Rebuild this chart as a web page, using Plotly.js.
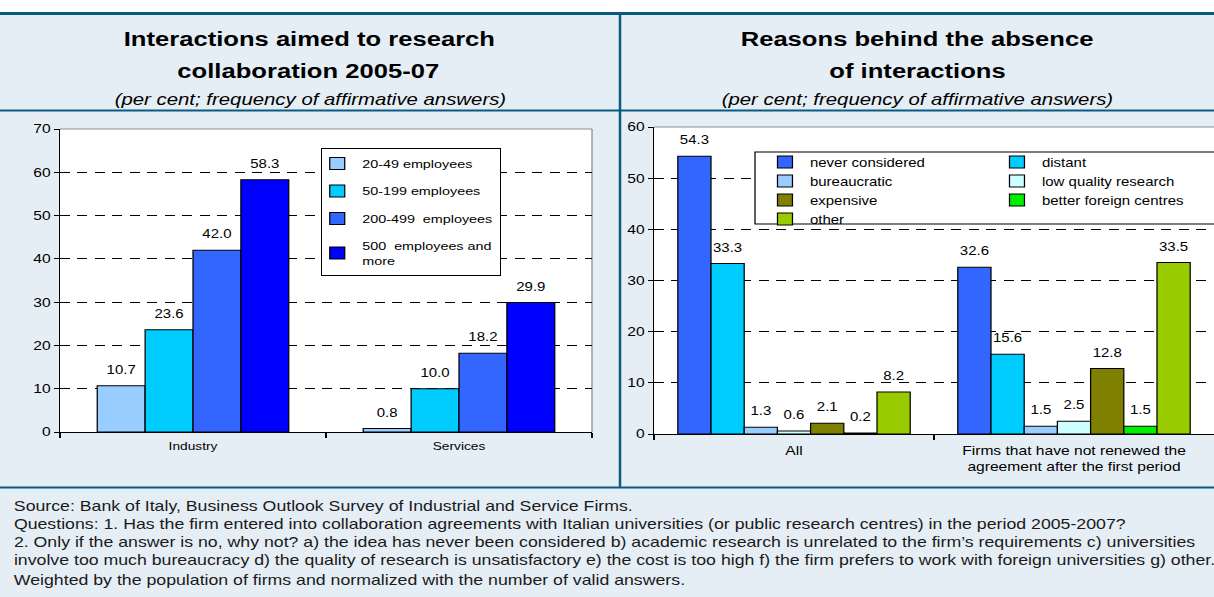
<!DOCTYPE html>
<html>
<head>
<meta charset="utf-8">
<script src="https://cdn.plot.ly/plotly-3.0.1.min.js"></script>
<style>
  html, body { margin:0; padding:0; background:#ffffff; overflow:hidden; }
  #wrap { position:relative; width:1214px; height:597px; overflow:hidden; }
  #stretch { position:absolute; left:0; top:0; width:972px; height:597px; transform-origin:0 0; }
  .layer { position:absolute; left:0; top:0; width:972px; height:597px; }
</style>
</head>
<body>
<div id="wrap">
  <div id="stretch">
    <div id="left" class="layer"></div>
    <div id="right" class="layer"></div>
  </div>
</div>
<script>
// ---------- data ----------
const categoriesL = ['Industry', 'Services'];
const seriesNamesL = ['20-49 employees', '50-199 employees', '200-499\u00a0 employees', '500\u00a0 employees and<br>more'];
const emp20_49   = [10.7, 0.8];
const emp50_199  = [23.6, 10.0];
const emp200_499 = [42.0, 18.2];
const emp500plus = [58.3, 29.9];

const categoriesR = ['All', 'Firms that have not renewed the<br>agreement after the first period'];
const seriesNamesR = ['never considered', 'distant', 'bureaucratic', 'low quality research', 'expensive', 'better foreign centres', 'other'];
const neverConsidered = [54.3, 32.6];
const distant         = [33.3, 15.6];
const bureaucratic    = [1.3, 1.5];
const lowQuality      = [0.6, 2.5];
const expensive       = [2.1, 12.8];
const betterForeign   = [0.2, 1.5];
const other           = [8.2, 33.5];

const yTicksL = [0, 10, 20, 30, 40, 50, 60, 70];
const yTicksR = [0, 10, 20, 30, 40, 50, 60];

// ---------- geometry / styles ----------
const FONT = 'Liberation Sans, Arial, sans-serif';
const PAGE_W = 1214, H = 597;
const W = 972;                       // internal width, stretched horizontally to the page width
document.getElementById('stretch').style.transform = 'scaleX(' + (PAGE_W / W) + ')';
const px = v => v / PAGE_W;
const py = v => 1 - v / H;
const BG = '#e6eef5';
const RULE = '#0b5a82';
const pad = '<span style="font-size:44px">\u00a0</span>';
const labelTpl = pad + '%{y:.1f}' + pad;

function barTrace(name, x, y, color, extra) {
  return Object.assign({
    type: 'bar', name: name, x: x, y: y,
    marker: { color: color, line: { color: '#000000', width: 1 } },
    texttemplate: labelTpl, textposition: 'outside', cliponaxis: false,
    constraintext: 'none',
    textfont: { family: FONT, size: 12, color: '#000000' },
    hoverinfo: 'skip'
  }, extra || {});
}

const axisCommonY = {
  showgrid: true, gridcolor: '#000000', griddash: '8px,6px', gridwidth: 1,
  zeroline: false, showline: true, linecolor: '#000000', linewidth: 1,
  ticks: 'outside', ticklen: 4, tickcolor: '#000000',
  tickfont: { family: FONT, size: 12.5, color: '#000000' }, fixedrange: true
};

// ---------- left figure ----------
const colorsL = ['#99ccff', '#00ccff', '#3366ff', '#0000ff'];
const valsL = [emp20_49, emp50_199, emp200_499, emp500plus];
const tracesL = valsL.map((v, i) => barTrace(seriesNamesL[i], categoriesL, v, colorsL[i], { legendgroup: 'g' + i }));

const footer = [
  'Source: Bank of Italy, Business Outlook Survey of Industrial and Service Firms.',
  'Questions: 1. Has the firm entered into collaboration agreements with Italian universities (or public research centres) in the period 2005-2007?',
  '2. Only if the answer is no, why not? a) the idea has never been considered b) academic research is unrelated to the firm\u2019s requirements c) universities',
  'involve too much bureaucracy d) the quality of research is unsatisfactory e) the cost is too high f) the firm prefers to work with foreign universities g) other.',
  'Weighted by the population of firms and normalized with the number of valid answers.'
];
const footerY = [506, 524, 542, 560, 580];

const annotationsL = [];
[
  ['<b>Interactions aimed to research</b>', 309, 38],
  ['<b>collaboration 2005-07</b>', 309, 70],
  ['<b>Reasons behind the absence</b>', 917, 38],
  ['<b>of interactions</b>', 917, 70]
].forEach(t => annotationsL.push({
  text: t[0], x: px(t[1]), y: py(t[2]), xref: 'paper', yref: 'paper', showarrow: false,
  xanchor: 'center', yanchor: 'middle', font: { family: FONT, size: 20.5, color: '#000000' }
}));
[310, 917].forEach(cx => annotationsL.push({
  text: '<i>(per cent; frequency of affirmative answers)</i>', x: px(cx), y: py(99),
  xref: 'paper', yref: 'paper', showarrow: false, xanchor: 'center', yanchor: 'middle',
  font: { family: FONT, size: 16.3, color: '#000000' }
}));
footer.forEach((t, i) => annotationsL.push({
  text: t, x: px(11), y: py(footerY[i]), xref: 'paper', yref: 'paper', showarrow: false,
  xanchor: 'left', yanchor: 'middle', font: { family: FONT, size: 14.2, color: '#1a1a1a' }
}));

const shapesL = [
  { type: 'rect', xref: 'paper', yref: 'paper', x0: 0, x1: 1, y0: py(13), y1: 1, fillcolor: '#ffffff', line: { width: 0 }, layer: 'below' },
  { type: 'line', xref: 'paper', yref: 'paper', x0: 0, x1: 1, y0: py(13.5), y1: py(13.5), line: { color: RULE, width: 3 } },
  { type: 'line', xref: 'paper', yref: 'paper', x0: 0, x1: 1, y0: py(110.5), y1: py(110.5), line: { color: RULE, width: 2 } },
  { type: 'line', xref: 'paper', yref: 'paper', x0: 0, x1: 1, y0: py(487.5), y1: py(487.5), line: { color: RULE, width: 2 } },
  { type: 'line', xref: 'paper', yref: 'paper', x0: px(620), x1: px(620), y0: py(14), y1: py(488), line: { color: RULE, width: 2 } },
  { type: 'line', xref: 'x domain', yref: 'y domain', x0: 0, x1: 1, y0: 1, y1: 1, line: { color: '#8c8c8c', width: 1 }, layer: 'below' },
  { type: 'line', xref: 'x domain', yref: 'y domain', x0: 1, x1: 1, y0: 0, y1: 1, line: { color: '#8c8c8c', width: 1 }, layer: 'below' }
];

const layoutL = {
  width: W, height: H, margin: { l: 0, r: 0, t: 0, b: 0 },
  paper_bgcolor: BG, plot_bgcolor: '#ffffff',
  font: { family: FONT, color: '#000000' },
  barmode: 'group', bargap: 0.28, bargroupgap: 0,
  xaxis: {
    domain: [px(60), px(592)], type: 'category', range: [-0.5, 1.5],
    showline: true, linecolor: '#000000', linewidth: 1,
    ticks: 'outside', tickson: 'boundaries', ticklen: 5, tickcolor: '#000000',
    tickfont: { family: FONT, size: 11, color: '#000000' }, ticklabelstandoff: 4,
    showgrid: false, fixedrange: true
  },
  yaxis: Object.assign({}, axisCommonY, { domain: [py(432), py(129)], range: [0, 70], tickvals: yTicksL }),
  legend: {
    x: px(321), y: py(148), xanchor: 'left', yanchor: 'top',
    bgcolor: '#ffffff', bordercolor: '#000000', borderwidth: 1,
    font: { family: FONT, size: 11.5, color: '#000000' }, indentation: -8,
    traceorder: 'grouped', tracegroupgap: 8.5, itemclick: false, itemdoubleclick: false
  },
  showlegend: true,
  annotations: annotationsL,
  shapes: shapesL
};

// ---------- right figure ----------
const colorsR = ['#3366ff', '#00ccff', '#99ccff', '#ccffff', '#808000', '#00ee00', '#99cc00'];
const valsR = [neverConsidered, distant, bureaucratic, lowQuality, expensive, betterForeign, other];
const legendOf = ['legend', 'legend2', 'legend', 'legend2', 'legend', 'legend2', 'legend'];
const tracesR = valsR.map((v, i) => barTrace(seriesNamesR[i], categoriesR, v, colorsR[i], { legend: legendOf[i] }));

const legendStyleR = {
  yanchor: 'top', xanchor: 'left', bgcolor: 'rgba(0,0,0,0)', borderwidth: 0,
  font: { family: FONT, size: 12, color: '#000000' }, tracegroupgap: 0,
  itemclick: false, itemdoubleclick: false
};

const layoutR = {
  width: W, height: H, margin: { l: 0, r: 0, t: 0, b: 0 },
  paper_bgcolor: 'rgba(0,0,0,0)', plot_bgcolor: '#ffffff',
  font: { family: FONT, color: '#000000' },
  barmode: 'group', bargap: 0.17, bargroupgap: 0,
  xaxis: {
    domain: [px(654), 1], type: 'category', range: [-0.5, 1.5],
    showline: true, linecolor: '#000000', linewidth: 1,
    ticks: 'outside', tickson: 'boundaries', ticklen: 5, tickcolor: '#000000',
    tickfont: { family: FONT, size: 12.5, color: '#000000' }, ticklabelstandoff: 5,
    showgrid: false, fixedrange: true
  },
  yaxis: Object.assign({}, axisCommonY, { domain: [py(434), py(127)], range: [0, 60], tickvals: yTicksR }),
  legend: Object.assign({ x: px(760), y: py(147.5) }, legendStyleR),
  legend2: Object.assign({ x: px(992), y: py(147.5) }, legendStyleR),
  showlegend: true,
  shapes: [
    { type: 'rect', xref: 'paper', yref: 'paper', x0: px(755), x1: px(1220), y0: py(224), y1: py(152), fillcolor: '#ffffff', line: { color: '#000000', width: 1 }, layer: 'above' },
    { type: 'line', xref: 'x domain', yref: 'y domain', x0: 0, x1: 1, y0: 1, y1: 1, line: { color: '#8c8c8c', width: 1 }, layer: 'below' }
  ]
};

const config = { staticPlot: true, displayModeBar: false };
Plotly.newPlot('left', tracesL, layoutL, config);
Plotly.newPlot('right', tracesR, layoutR, config);
</script>
</body>
</html>
